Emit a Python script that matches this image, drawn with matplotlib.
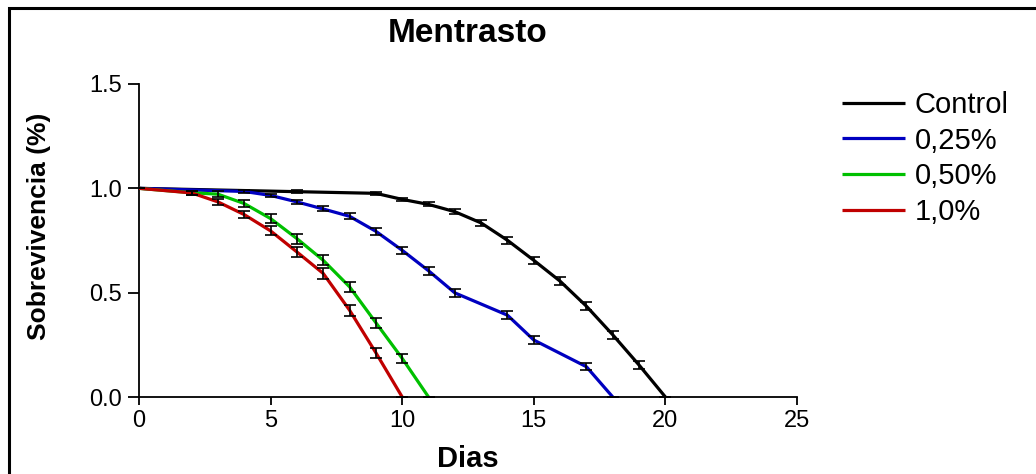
import matplotlib
matplotlib.use("Agg")
import matplotlib.pyplot as plt
from matplotlib.patches import Rectangle

# ---- data ----
control_days = [0, 6, 9, 10, 11, 12, 13, 14, 15, 16, 17, 18, 19, 20]
control_vals = [1.0, 0.984, 0.976, 0.947, 0.923, 0.888, 0.834, 0.751, 0.655, 0.555, 0.435, 0.298, 0.153, 0.0]
control_err = [0, 0.006, 0.006, 0.008, 0.010, 0.012, 0.014, 0.016, 0.018, 0.018, 0.020, 0.020, 0.020, 0]

c025_days = [0, 4, 5, 6, 7, 8, 9, 10, 11, 12, 14, 15, 17, 18]
c025_vals = [1.0, 0.985, 0.966, 0.935, 0.901, 0.866, 0.794, 0.703, 0.605, 0.499, 0.392, 0.273, 0.145, 0.0]
c025_err = [0, 0.006, 0.008, 0.010, 0.012, 0.014, 0.016, 0.018, 0.020, 0.020, 0.020, 0.018, 0.016, 0]

c050_days = [0, 2, 3, 4, 5, 6, 7, 8, 9, 10, 11]
c050_vals = [1.0, 0.979, 0.972, 0.927, 0.855, 0.759, 0.655, 0.528, 0.356, 0.185, 0.0]
c050_err = [0, 0.010, 0.014, 0.018, 0.022, 0.024, 0.024, 0.024, 0.024, 0.020, 0]

c100_days = [0, 2, 3, 4, 5, 6, 7, 8, 9, 10]
c100_vals = [1.0, 0.978, 0.935, 0.874, 0.796, 0.695, 0.592, 0.416, 0.212, 0.0]
c100_err = [0, 0.010, 0.014, 0.018, 0.022, 0.024, 0.026, 0.026, 0.024, 0]

labels = ["Control", "0,25%", "0,50%", "1,0%"]
colors = ["#000000", "#0000c0", "#00c000", "#c00000"]
xticks = [0, 5, 10, 15, 20, 25]
yticks = [0.0, 0.5, 1.0, 1.5]

plt.rcParams['font.family'] = ['Liberation Sans', 'DejaVu Sans']

fig = plt.figure(figsize=(10.36, 4.74), dpi=100)
W, H = 1036, 474
ax = fig.add_axes([139 / W, 1 - 397 / H, (797 - 139) / W, (397 - 84) / H])

series = [
    (control_days, control_vals, control_err),
    (c025_days, c025_vals, c025_err),
    (c050_days, c050_vals, c050_err),
    (c100_days, c100_vals, c100_err),
]
handles = []
for (d, v, e), lab, col in zip(series, labels, colors):
    h, = ax.plot(d, v, color=col, lw=2.3, label=lab, zorder=3, solid_capstyle='butt')
    handles.append(h)
    ax.errorbar(d, v, yerr=e, fmt='none', ecolor='black', elinewidth=1.2,
                capsize=4.5, capthick=1.2, zorder=4)

ax.set_xlim(0, 25)
ax.set_ylim(0, 1.5)
ax.set_xticks(xticks)
ax.set_yticks(yticks)
ax.set_xticklabels([str(t) for t in xticks])
ax.set_yticklabels([f"{t:.1f}" for t in yticks])
for s in ['top', 'right']:
    ax.spines[s].set_visible(False)
for s in ['left', 'bottom']:
    ax.spines[s].set_linewidth(1.3)
ax.tick_params(axis='y', direction='out', length=8, width=1.3, labelsize=17, pad=4)
ax.tick_params(axis='x', direction='out', length=5.5, width=1.3, labelsize=17, pad=4)

ax.set_title("Mentrasto", fontsize=24, fontweight='bold', pad=30)
ax.set_xlabel("Dias", fontsize=21, fontweight='bold')
ax.xaxis.set_label_coords(0.5, (397 - 445) / 313)
ax.set_ylabel("Sobrevivencia (%)", fontsize=19, fontweight='bold', va='center')
ax.yaxis.set_label_coords((39 - 139) / 658, (397 - 226) / 313)

fig.legend(handles=handles, labels=labels, loc='upper left',
           bbox_to_anchor=(842 / W, 1 - 91 / H), frameon=False,
           fontsize=21, handlelength=2.15, handletextpad=0.35,
           labelspacing=0.26, borderaxespad=0, borderpad=0)

fig.patches.append(Rectangle((9 / W, -0.1), 1.2, 1.1 - 8 / H, transform=fig.transFigure,
                             fill=False, edgecolor='black', lw=2.2))

fig.savefig("out.png", dpi=100)
